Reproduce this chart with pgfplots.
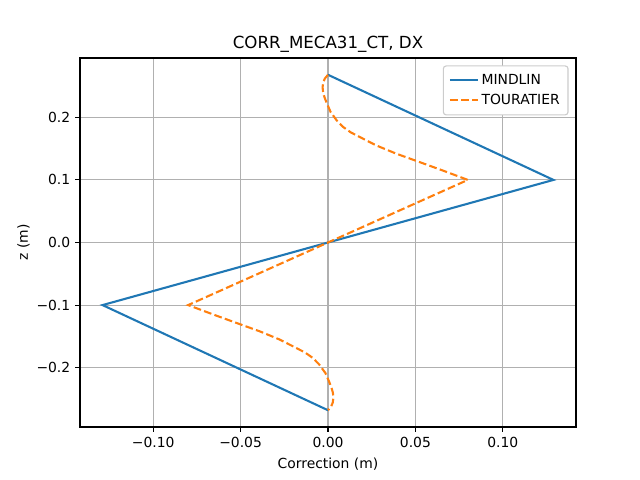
\documentclass[border=0pt]{standalone}
\usepackage{fontspec}
\setmainfont{DejaVu Sans}
\usepackage{pgfplots}
\pgfplotsset{compat=1.18}
\definecolor{mplblue}{HTML}{1F77B4}
\definecolor{mplorange}{HTML}{FF7F0E}
\definecolor{mplgrid}{HTML}{B0B0B0}

% Through-thickness correction profiles
\begin{document}
\begin{tikzpicture}[x=1pt,y=1pt]
\useasboundingbox (-57.6,-38.16) rectangle (403.2,307.44);
\begin{axis}[
  at={(0,0)}, anchor=south west,
  scale only axis,
  width=357.12pt, height=265.68pt,
  xmin=-0.1419, xmax=0.1419,
  ymin=-0.2948, ymax=0.2948,
  xtick={-0.10,-0.05,0,0.05,0.10},
  xticklabels={−0.10,−0.05,0.00,0.05,0.10},
  ytick={-0.2,-0.1,0,0.1,0.2},
  yticklabels={−0.2,−0.1,0.0,0.1,0.2},
  tick align=outside,
  tick pos=left,
  major tick length=3.5pt,
  every tick/.style={black, line width=0.8pt},
  axis line style={line width=0.8pt},
  grid=major,
  major grid style={mplgrid, line width=0.8pt},
  tick label style={font=\fontsize{10}{12}\selectfont},
  xlabel={Correction (m)},
  ylabel={z (m)},
  label style={font=\fontsize{10}{12}\selectfont},
  xlabel style={yshift=-1pt},
  ylabel style={yshift=-2pt},
  title={CORR\_MECA31\_CT, DX},
  title style={font=\fontsize{12}{14}\selectfont, yshift=-5.5pt},
  legend style={at={(0.985,0.98)}, anchor=north east,
    draw=black!20, rounded corners=2pt, line width=0.8pt,
    font=\fontsize{10}{12}\selectfont, inner xsep=4pt, inner ysep=4pt, row sep=1.5pt,
    cells={anchor=west}},
  legend cell align=left,
  legend image code/.code={\draw[#1] (0pt,0pt) -- (20pt,0pt);},
]
\addplot[mplblue, line width=1.5pt] coordinates {
  (0.000, 0.268) (0.129, 0.100) (-0.129, -0.100) (0.000, -0.268)
};
\addlegendentry{MINDLIN}
\addplot[mplorange, line width=1.5pt, dash pattern=on 5.55pt off 2.4pt] coordinates {
  (0.0000, 0.268) (-0.0018, 0.262) (-0.0027, 0.256) (-0.0031, 0.248)
  (-0.0028, 0.240) (-0.0020, 0.232) (-0.0006, 0.222) (0.0015, 0.2085)
  (0.0050, 0.195) (0.0087, 0.1845) (0.0130, 0.176) (0.0182, 0.1685)
  (0.0277, 0.155) (0.0390, 0.142) (0.0524, 0.1285) (0.0657, 0.115)
  (0.0800, 0.100) (0.0000, 0.000) (-0.0800, -0.100)
  (-0.0657, -0.115) (-0.0524, -0.1285) (-0.0390, -0.142) (-0.0277, -0.155)
  (-0.0182, -0.1685) (-0.0130, -0.176) (-0.0087, -0.1845) (-0.0050, -0.195)
  (-0.0015, -0.2085) (0.0006, -0.222) (0.0020, -0.232) (0.0028, -0.240)
  (0.0031, -0.248) (0.0027, -0.256) (0.0018, -0.262) (0.0000, -0.268)
};
\addlegendentry{TOURATIER}
\end{axis}
\end{tikzpicture}
\end{document}
